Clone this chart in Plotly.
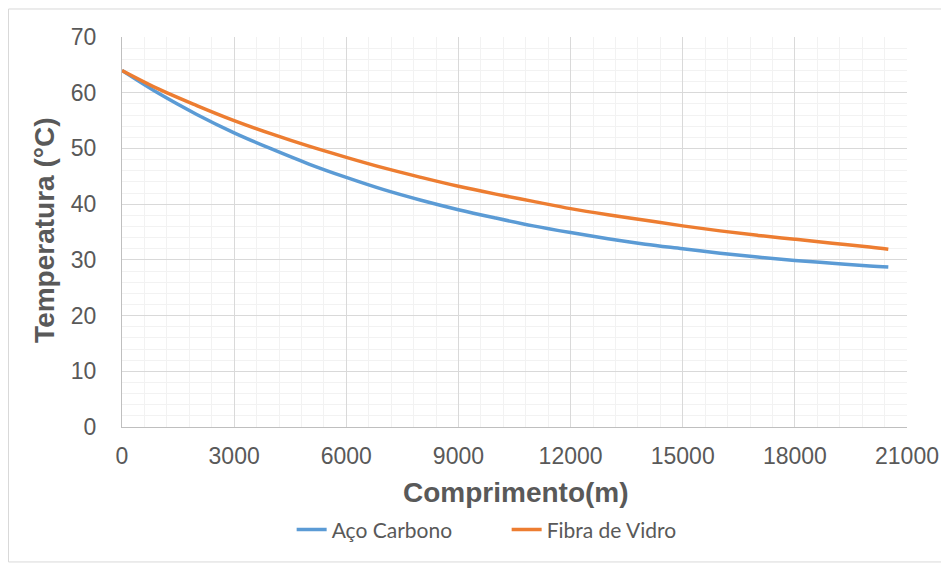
import plotly.graph_objects as go

# comprimento (m)
comprimento = [0, 1000, 2000, 3000, 4000, 5000, 6000, 7000, 8000, 9000, 10000,
               11000, 12000, 13000, 14000, 15000, 16000, 17000, 18000, 19000, 20000, 20500]

# temperatura (C)
aco_carbono = [64.0, 59.8, 56.1, 52.8, 49.9, 47.2, 44.8, 42.6, 40.7, 39.0, 37.5,
               36.1, 34.9, 33.8, 32.8, 32.0, 31.2, 30.5, 29.9, 29.4, 28.9, 28.7]
fibra_vidro = [64.0, 60.6, 57.7, 55.0, 52.6, 50.4, 48.4, 46.5, 44.8, 43.2, 41.8,
               40.5, 39.2, 38.1, 37.1, 36.1, 35.2, 34.4, 33.7, 33.0, 32.3, 31.9]

x_ticks = [0, 3000, 6000, 9000, 12000, 15000, 18000, 21000]
y_ticks = [0, 10, 20, 30, 40, 50, 60, 70]

fig = go.Figure()
fig.add_trace(go.Scatter(x=comprimento, y=aco_carbono, mode="lines", name="Aço Carbono",
                         line=dict(color="#5B9BD5", width=3.5, shape="spline")))
fig.add_trace(go.Scatter(x=comprimento, y=fibra_vidro, mode="lines", name="Fibra de Vidro",
                         line=dict(color="#ED7D31", width=3.5, shape="spline")))

tick_font = dict(family="Liberation Sans, Arial", size=23, color="#595959")

fig.update_xaxes(range=[0, 21000], tickvals=x_ticks, ticktext=[str(v) for v in x_ticks],
                 showgrid=True, gridcolor="#D9D9D9", gridwidth=1,
                 minor=dict(dtick=600, showgrid=True, gridcolor="#F2F2F2", gridwidth=1),
                 showline=True, linecolor="#BFBFBF", linewidth=1,
                 zeroline=False, tickfont=tick_font, ticks="", ticklabelstandoff=8)
fig.update_yaxes(range=[0, 70], tickvals=y_ticks,
                 showgrid=True, gridcolor="#D9D9D9", gridwidth=1,
                 minor=dict(dtick=2, showgrid=True, gridcolor="#F2F2F2", gridwidth=1),
                 showline=True, linecolor="#BFBFBF", linewidth=1,
                 zeroline=False, tickfont=tick_font, ticks="", ticklabelstandoff=20)

# axis titles
fig.add_annotation(text="<b>Comprimento(m)</b>", xref="paper", yref="paper",
                   x=0.502, y=-0.1667, xanchor="center", yanchor="middle", showarrow=False,
                   font=dict(family="Liberation Sans, Arial", size=28, color="#595959"))
fig.add_annotation(text="<b>Temperatura (°C)</b>", xref="paper", yref="paper",
                   x=-0.098, y=0.503, xanchor="center", yanchor="middle", showarrow=False,
                   textangle=-90,
                   font=dict(family="Liberation Sans, Arial", size=28, color="#595959"))

# outer chart border
fig.add_shape(type="rect", xref="paper", yref="paper",
              x0=-0.1446, x1=1.051, y0=-0.346, y1=1.0718,
              line=dict(color="#D9D9D9", width=1), layer="below")

fig.update_layout(
    width=949, height=565,
    margin=dict(l=114, r=50, t=29, b=146),
    paper_bgcolor="white", plot_bgcolor="white",
    showlegend=True,
    legend=dict(orientation="h", x=0.49, xanchor="center", y=-0.264, yanchor="middle",
                font=dict(family="Lato, Open Sans", size=21, color="#595959"),
                entrywidth=170),
)

fig.write_html("out.html")
